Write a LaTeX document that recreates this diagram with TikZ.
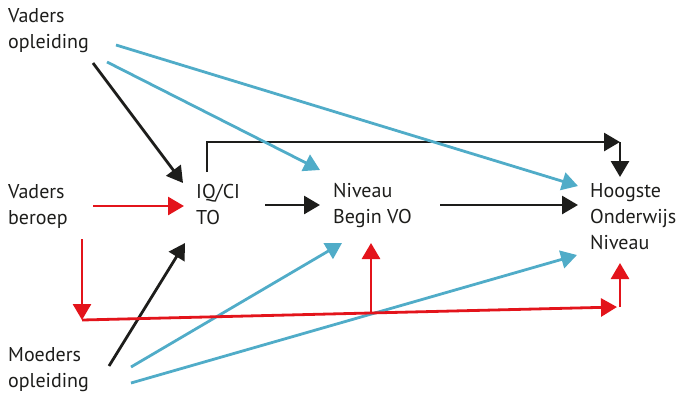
\documentclass[tikz,border=0pt]{standalone}
\usepackage{fontspec}
\setmainfont{PT Sans}
\usetikzlibrary{arrows.meta}
\definecolor{pijlrood}{RGB}{227,20,27}
\definecolor{pijlblauw}{RGB}{80,172,200}
\definecolor{pijlzwart}{RGB}{29,29,27}
\tikzset{
  Tekst/.style={anchor=base west,inner sep=0pt,align=left,text=pijlzwart,
    font=\fontsize{20}{26}\selectfont},
  PijlZwart/.style={line width=2.8pt,color=pijlzwart,-{Triangle[length=16pt,width=18pt]}},
  PijlRood/.style={line width=2.8pt,color=pijlrood,-{Triangle[length=16pt,width=18pt]}},
  PijlBlauw/.style={line width=2.8pt,color=pijlblauw,-{Triangle[length=16pt,width=18pt]}}
}

\begin{document}
\begin{tikzpicture}[x=1pt,y=-1pt]
\useasboundingbox (0,0) rectangle (682,392);

% variabelen (anker op de basislijn van de laatste regel)
\node[Tekst] (vopl) at (8,48) {Vaders\\opleiding};
\node[Tekst] (vber) at (8,224) {Vaders\\beroep};
\node[Tekst] (mopl) at (8,387) {Moeders\\opleiding};
\node[Tekst] (iq) at (196,224) {IQ/CI\\TO};
\node[Tekst] (vo) at (333,223) {Niveau\\Begin VO};
\node[Tekst] (hoog) at (590,249) {Hoogste\\Onderwijs\\Niveau};

\coordinate (hoek) at ([shift={(30,-107)}]hoog.base west);
\coordinate (knik) at ([shift={(74,96)}]vber.base west);
\coordinate (splits) at ([shift={(38,90)}]vo.base west);

% zwarte pijlen
\draw[PijlZwart] ([shift={(85,15)}]vopl.base west) -- ([shift={(-13,-41)}]iq.base west);
\draw[PijlZwart] ([shift={(69,-19)}]iq.base west) -- ([shift={(-13,-18)}]vo.base west);
\draw[PijlZwart] ([shift={(107,-18)}]vo.base west) -- ([shift={(-12,-44)}]hoog.base west);
\draw[PijlZwart] ([shift={(11,-52)}]iq.base west) |- (hoek);
\draw[PijlZwart] (hoek) -- ([shift={(30,-72)}]hoog.base west);
\draw[PijlZwart] ([shift={(101,-21)}]mopl.base west) -- ([shift={(-11,19)}]iq.base west);

% blauwe pijlen
\draw[PijlBlauw] ([shift={(99,14)}]vopl.base west) -- ([shift={(-13,-53)}]vo.base west);
\draw[PijlBlauw] ([shift={(108,-3)}]vopl.base west) -- ([shift={(-12,-63)}]hoog.base west);
\draw[PijlBlauw] ([shift={(123,-20)}]mopl.base west) -- ([shift={(9,20)}]vo.base west);
\draw[PijlBlauw] ([shift={(123,-4)}]mopl.base west) -- ([shift={(-13,6)}]hoog.base west);

% rode pijlen
\draw[PijlRood] ([shift={(85,-18)}]vber.base west) -- ([shift={(-12,-18)}]iq.base west);
\draw[PijlRood] ([shift={(74,15)}]vber.base west) -- (knik);
\draw[PijlRood] (knik) -- ([shift={(27,58)}]hoog.base west);
\draw[PijlRood] (splits) -- ([shift={(38,20)}]vo.base west);
\draw[PijlRood] ([shift={(30,58)}]hoog.base west) -- ([shift={(30,14)}]hoog.base west);

\end{tikzpicture}
\end{document}
